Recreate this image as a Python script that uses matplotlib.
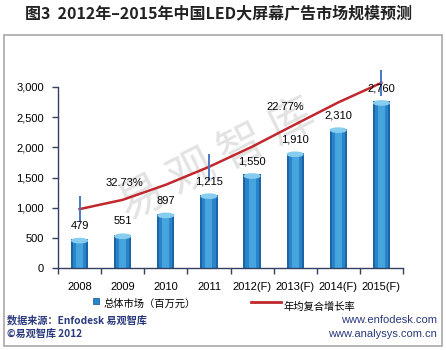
import numpy as np
import matplotlib
matplotlib.use('Agg')
import matplotlib.pyplot as plt
from matplotlib.patches import Rectangle, Ellipse
from matplotlib.lines import Line2D

plt.rcParams['font.family'] = ['Liberation Sans', 'Noto Sans CJK SC']

# data
years = ['2008', '2009', '2010', '2011', '2012(F)', '2013(F)', '2014(F)', '2015(F)']
market = [479, 551, 897, 1215, 1550, 1910, 2310, 2760]          # 百万元
trend = [976, 1130, 1380, 1676, 2010, 2380, 2745, 3070]         # CAGR guide line
trend_marks = [0, 3, 7]                                          # vertical ticks on the line
cagr_text = ['32.73%', '22.77%']
cagr_pos = [(1.05, 1411), (4.77, 2669)]

cjk = ['Noto Sans CJK SC', 'DejaVu Sans']
navy = '#2b3a7c'
spine_c = '#34405f'

fig = plt.figure(figsize=(4.46, 3.5), dpi=100)
W, H = 446.0, 350.0
ax = fig.add_axes([58 / W, 1 - 268 / H, 345 / W, 181 / H])
ax.patch.set_alpha(0)

x = np.arange(len(years))
# cylinder-like shading with layered bars
ax.bar(x, market, width=0.40, color='#1c64a8', zorder=2)
ax.bar(x, market, width=0.31, color='#2a85c8', zorder=2)
ax.bar(x, market, width=0.16, color='#46a4de', zorder=2)
for xi, v in zip(x, market):
    ax.add_patch(Ellipse((xi, v - 25), 0.36, 70, color='#86cdef', zorder=3))
    ax.annotate(f'{v:,}', (xi, v), xytext=(0, 6), textcoords='offset points',
                ha='center', va='bottom', fontsize=8, zorder=6)

ax.plot(x, trend, color='#c0282e', lw=1.8, clip_on=False, zorder=4)
mx = [x[i] for i in trend_marks]
my = np.array([trend[i] for i in trend_marks])
ax.vlines(mx, my - 220, my + 220, color='#4a78c2', lw=1.4, clip_on=False, zorder=5)

for t, (px, py) in zip(cagr_text, cagr_pos):
    ax.text(px, py, t, ha='center', va='center', fontsize=8, zorder=6)

ax.set_xlim(-0.5, 7.5)
ax.set_ylim(0, 3000)
ax.set_yticks(np.arange(0, 3001, 500))
ax.set_yticklabels([f'{v:,}' for v in range(0, 3001, 500)])
ax.set_xticks(x)
ax.set_xticklabels(years)
ax.set_xticks(np.arange(-0.5, 8, 1), minor=True)
for s in ['top', 'right']:
    ax.spines[s].set_visible(False)
for s in ['left', 'bottom']:
    ax.spines[s].set_color(spine_c)
    ax.spines[s].set_linewidth(1)
ax.tick_params(axis='y', direction='out', length=4, width=1, color=spine_c, pad=6, labelsize=8)
ax.tick_params(axis='x', which='major', length=0, pad=10, labelsize=8)
ax.tick_params(axis='x', which='minor', length=4, width=1, direction='out', color=spine_c)

# watermark
ax.text(217 / W, 1 - 161 / H, '易 观 智 库', transform=fig.transFigure, rotation=27,
        fontsize=33, color='#e3e3e3', ha='center', va='center', zorder=0, family=cjk)

# title
fig.text(25 / W, 1 - 14 / H, '图3  2012年–2015年中国LED大屏幕广告市场规模预测',
         fontsize=11.5, fontweight='bold', va='center', ha='left', color='#222222', family=cjk)

# frame
fig.patches.append(Rectangle((4 / W, 1 - 346 / H), 438 / W, 311 / H, transform=fig.transFigure,
                             fill=False, edgecolor='#a8a8a8', lw=1.2))

# legend
fig.patches.append(Rectangle((93 / W, 1 - 304 / H), 6 / W, 6 / H, transform=fig.transFigure,
                             facecolor='#2a85c8', edgecolor='#1c64a8', lw=0.6))
fig.text(104 / W, 1 - 304 / H, '总体市场（百万元）', fontsize=7.4, va='center', family=cjk)
fig.lines.append(Line2D([251 / W, 281 / W], [1 - 302 / H] * 2, transform=fig.transFigure,
                        color='#c0282e', lw=2))
fig.text(283 / W, 1 - 307 / H, '年均复合增长率', fontsize=7.4, va='center', family=cjk)

# footer
fig.text(7 / W, 1 - 320 / H, '数据来源：Enfodesk 易观智库', fontsize=7.3, va='center',
         color=navy, fontweight='bold', family=cjk)
fig.text(7 / W, 1 - 334 / H, '©易观智库 2012', fontsize=7.3, va='center',
         color=navy, fontweight='bold', family=cjk)
fig.text(437 / W, 1 - 320 / H, 'www.enfodesk.com', fontsize=8, va='center', ha='right', color=navy)
fig.text(437 / W, 1 - 334 / H, 'www.analysys.com.cn', fontsize=8, va='center', ha='right', color=navy)

fig.savefig('out.png', dpi=100)
